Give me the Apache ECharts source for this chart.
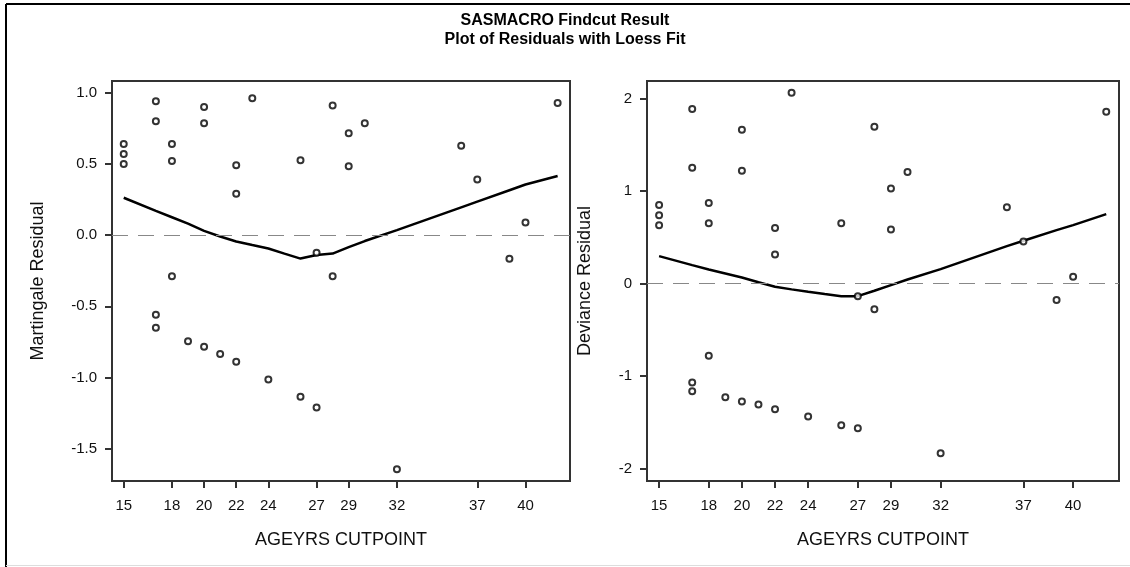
<!DOCTYPE html>
<html>
<head>
<meta charset="utf-8">
<title>SASMACRO Findcut Result</title>
<script src="https://cdn.jsdelivr.net/npm/echarts@6/dist/echarts.min.js"></script>
<style>
  html, body { margin: 0; padding: 0; background: #fff; }
  #chart { width: 1130px; height: 567px; }
</style>
</head>
<body>
<div id="chart"></div>
<script>
// cutpoint of each residual point (same for both panels)
var ageCuts = [15, 15, 15, 17, 17, 17, 17, 18, 18, 18, 19, 20, 20, 20, 21, 22, 22, 22, 23, 24,
  26, 26, 27, 27, 28, 28, 29, 29, 30, 32, 36, 37, 39, 40, 42];
var martingale = [0.64, 0.57, 0.50, 0.94, 0.80, -0.56, -0.65, 0.64, 0.52, -0.29, -0.745, 0.90, 0.785, -0.785,
  -0.836, 0.49, 0.29, -0.89, 0.96, -1.015, 0.525, -1.136, -0.124, -1.21, 0.91, -0.29, 0.715, 0.483, 0.785,
  -1.644, 0.628, 0.39, -0.166, 0.089, 0.928];
var deviance = [0.85, 0.74, 0.63, 1.886, 1.252, -1.068, -1.162, 0.87, 0.651, -0.78, -1.227, 1.663, 1.22, -1.274,
  -1.306, 0.60, 0.315, -1.357, 2.063, -1.436, 0.651, -1.53, -0.135, -1.562, 1.695, -0.276, 1.029, 0.586, 1.205,
  -1.832, 0.824, 0.456, -0.178, 0.074, 1.857];

// loess fit
var loessAges = [15, 17, 18, 19, 20, 21, 22, 23, 24, 25, 26, 27, 28, 29, 30, 32, 36, 37, 39, 40, 42];
var martingaleLoess = [0.262, 0.17, 0.125, 0.08, 0.03, -0.01, -0.045, -0.07, -0.094, -0.13, -0.165, -0.14,
  -0.13, -0.085, -0.042, 0.035, 0.195, 0.235, 0.315, 0.355, 0.415];
var devianceLoess = [0.297, 0.2, 0.153, 0.11, 0.067, 0.015, -0.034, -0.062, -0.088, -0.112, -0.135, -0.135,
  -0.077, -0.016, 0.045, 0.157, 0.405, 0.463, 0.578, 0.632, 0.751];

// tick labels
var xTicks = [15, 18, 20, 22, 24, 27, 29, 32, 37, 40];
var martingaleTicks = [-1.5, -1.0, -0.5, 0.0, 0.5, 1.0];
var devianceTicks = [-2, -1, 0, 1, 2];

var FONT = "'Liberation Sans', Arial, sans-serif";
var AXIS_COLOR = "#333";

function pairs(xs, ys) {
  return xs.map(function (x, i) { return [x, ys[i]]; });
}

function xAxisFor(idx) {
  return {
    gridIndex: idx,
    type: "value",
    min: 14.27,
    max: 42.77,
    name: "AGEYRS CUTPOINT",
    nameLocation: "middle",
    nameGap: 50,
    nameTextStyle: { fontSize: 18, color: "#111", fontFamily: FONT },
    axisLine: { show: true, onZero: false, lineStyle: { color: AXIS_COLOR, width: 2 } },
    axisTick: { show: true, length: 7, customValues: xTicks, lineStyle: { color: AXIS_COLOR, width: 2 } },
    axisLabel: { customValues: xTicks, fontSize: 15, margin: 17, color: "#111", fontFamily: FONT },
    splitLine: { show: false }
  };
}

function yAxisFor(idx, min, max, ticks, name, gap, fmt) {
  return {
    gridIndex: idx,
    type: "value",
    min: min,
    max: max,
    name: name,
    nameLocation: "middle",
    nameGap: gap,
    nameTextStyle: { fontSize: 18, color: "#111", fontFamily: FONT },
    axisLine: { show: true, onZero: false, lineStyle: { color: AXIS_COLOR, width: 2 } },
    axisTick: { show: true, length: 7, customValues: ticks, lineStyle: { color: AXIS_COLOR, width: 2 } },
    axisLabel: { customValues: ticks, fontSize: 15, margin: 15, color: "#111", fontFamily: FONT, formatter: fmt },
    splitLine: { show: false }
  };
}

var zeroLine = {
  silent: true,
  symbol: "none",
  label: { show: false },
  lineStyle: { type: [16, 10], color: "#888", width: 1.2 },
  data: [{ yAxis: 0 }]
};

function scatterFor(idx, ys) {
  return {
    type: "scatter",
    xAxisIndex: idx,
    yAxisIndex: idx,
    symbol: "emptyCircle",
    symbolSize: 6,
    itemStyle: { color: "#000", borderColor: "#000", borderWidth: 1 },
    data: pairs(ageCuts, ys),
    z: 3
  };
}

function loessFor(idx, ys) {
  return {
    type: "line",
    xAxisIndex: idx,
    yAxisIndex: idx,
    showSymbol: false,
    lineStyle: { color: "#000", width: 2.5 },
    data: pairs(loessAges, ys),
    markLine: zeroLine,
    z: 2
  };
}

var chart = echarts.init(document.getElementById("chart"));
var option = {
  animation: false,
  backgroundColor: "#fff",
  title: {
    text: "SASMACRO Findcut Result\nPlot of Residuals with Loess Fit",
    left: "center",
    top: 6,
    textStyle: { fontSize: 16, fontWeight: "bold", color: "#000", fontFamily: FONT, lineHeight: 19 }
  },
  grid: [
    { left: 112, top: 81, width: 458, height: 400, show: true, borderColor: AXIS_COLOR, borderWidth: 2, outerBoundsMode: "none" },
    { left: 647, top: 81, width: 472, height: 400, show: true, borderColor: AXIS_COLOR, borderWidth: 2, outerBoundsMode: "none" }
  ],
  xAxis: [xAxisFor(0), xAxisFor(1)],
  yAxis: [
    yAxisFor(0, -1.727, 1.082, martingaleTicks, "Martingale Residual", 65, function (v) { return v.toFixed(1); }),
    yAxisFor(1, -2.132, 2.189, devianceTicks, "Deviance Residual", 53, function (v) { return String(v); })
  ],
  graphic: [
    { type: "line", shape: { x1: 6, y1: 4, x2: 1130, y2: 4 }, style: { stroke: "#000", lineWidth: 2 } },
    { type: "line", shape: { x1: 6, y1: 4, x2: 6, y2: 567 }, style: { stroke: "#000", lineWidth: 2 } },
    { type: "line", shape: { x1: 6, y1: 565.5, x2: 1130, y2: 565.5 }, style: { stroke: "#ddd", lineWidth: 1 } }
  ],
  series: [
    loessFor(0, martingaleLoess),
    scatterFor(0, martingale),
    loessFor(1, devianceLoess),
    scatterFor(1, deviance)
  ]
};
chart.setOption(option);
window.addEventListener("resize", function () {
  chart.resize();
});
</script>
</body>
</html>
